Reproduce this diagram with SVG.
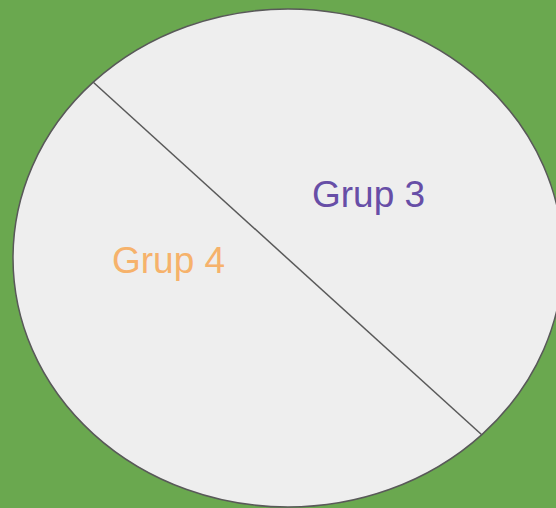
<svg xmlns="http://www.w3.org/2000/svg" width="556" height="508" viewBox="0 0 556 508">
<style>
.lbl{font-family:"Liberation Sans",Arial,sans-serif;font-size:37px}
</style>
<rect x="0" y="0" width="556" height="508" fill="#6aa84f"/>
<g id="circle">
<ellipse cx="288" cy="258" rx="275" ry="249" fill="#eeeeee" stroke="#595959" stroke-width="1.5"/>
</g>
<g id="connectors">
<line x1="93" y1="82" x2="482" y2="435" stroke="#595959" stroke-width="1.5"/>
</g>
<g id="grup3">
<text class="lbl" x="312" y="207" fill="#674ea7">Grup 3</text>
</g>
<g id="grup4">
<text class="lbl" x="112" y="273" fill="#f6b26b">Grup 4</text>
</g>
</svg>
